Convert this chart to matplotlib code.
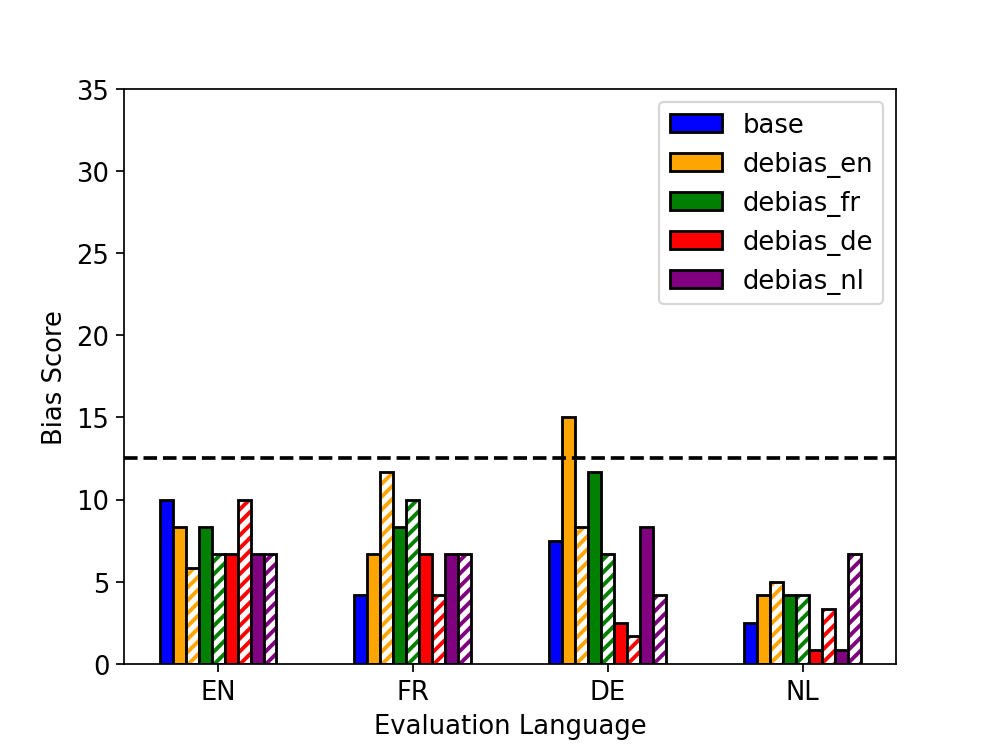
import numpy as np
import matplotlib
matplotlib.use("Agg")
import matplotlib.pyplot as plt

plt.rcParams["font.size"] = 12
plt.rcParams["hatch.linewidth"] = 1.8

languages = ["EN", "FR", "DE", "NL"]
models = ["base", "debias_en", "debias_fr", "debias_de", "debias_nl"]
colors = ["blue", "orange", "green", "red", "purple"]

base = [10.0, 4.17, 7.5, 2.5]
# solid bar and hatched bar values per debias model
debias_solid = {
    "debias_en": [8.33, 6.67, 15.0, 4.17],
    "debias_fr": [8.33, 8.33, 11.67, 4.17],
    "debias_de": [6.67, 6.67, 2.5, 0.83],
    "debias_nl": [6.67, 6.67, 8.33, 0.83],
}
debias_hatch = {
    "debias_en": [5.83, 11.67, 8.33, 5.0],
    "debias_fr": [6.67, 10.0, 6.67, 4.17],
    "debias_de": [10.0, 4.17, 1.67, 3.33],
    "debias_nl": [6.67, 6.67, 4.17, 6.67],
}
threshold = 12.5

fig, ax = plt.subplots(figsize=(6.4, 4.8))
x = np.arange(len(languages))
w = 0.6 / 9
lw = 1.3

ax.bar(x - 4 * w, base, w, color=colors[0], edgecolor="black", linewidth=lw,
       label="base")
for i, m in enumerate(models[1:]):
    pos = -3 + 2 * i
    ax.bar(x + pos * w, debias_solid[m], w, color=colors[i + 1],
           edgecolor="black", linewidth=lw, label=m)
    ax.bar(x + (pos + 1) * w, debias_hatch[m], w, color="white",
           edgecolor=colors[i + 1], hatch="////", linewidth=0)
    ax.bar(x + (pos + 1) * w, debias_hatch[m], w, fill=False,
           edgecolor="black", linewidth=lw)

ax.axhline(threshold, color="black", linestyle="--", linewidth=1.7)
ax.set_ylim(0, 35)
ax.set_xticks(x)
ax.set_xticklabels(languages)
ax.set_xlabel("Evaluation Language")
ax.set_ylabel("Bias Score")
ax.legend(loc="upper right")

fig.savefig("out.png", dpi=155.6)
